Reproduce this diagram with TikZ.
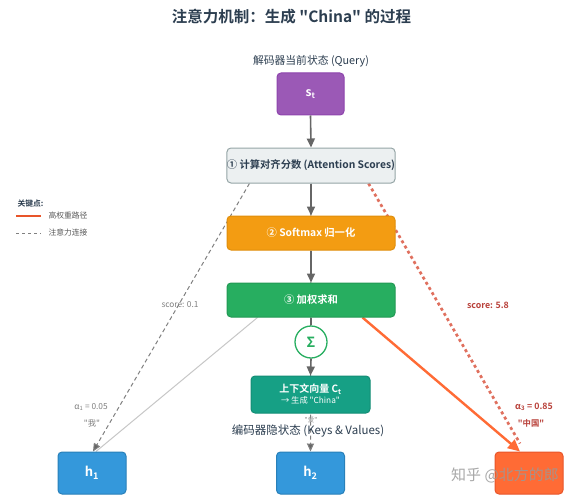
\documentclass[tikz,border=0pt]{standalone}
\usepackage{fontspec}
\setmainfont{Noto Sans CJK SC}[BoldFont={Noto Sans CJK SC Bold}]
\usetikzlibrary{arrows.meta,calc}
\definecolor{titlec}{HTML}{2C3E50}
\definecolor{purp}{HTML}{9B59B6}
\definecolor{purpd}{HTML}{8E44AD}
\definecolor{greyf}{HTML}{ECF0F1}
\definecolor{greyd}{HTML}{95A5A6}
\definecolor{orng}{HTML}{F39C12}
\definecolor{orngd}{HTML}{E08E0B}
\definecolor{grn}{HTML}{27AE60}
\definecolor{grnd}{HTML}{229954}
\definecolor{teal}{HTML}{16A085}
\definecolor{teald}{HTML}{138D75}
\definecolor{blu}{HTML}{3498DB}
\definecolor{blud}{HTML}{2980B9}
\definecolor{hot}{HTML}{FF6B35}
\definecolor{hotd}{HTML}{E8552A}
\definecolor{arrg}{HTML}{666666}
\definecolor{redd}{HTML}{E0705E}
\definecolor{redt}{HTML}{B9413A}
\newcommand{\dq}{\textquotedbl}
\pgfdeclarelayer{bg}
\pgfsetlayers{bg,main}
\tikzset{
  box/.style={rounded corners=4pt, line width=1pt, inner sep=0pt, text=white,
    font=\bfseries\fontsize{10.3}{12}\selectfont},
  hbox/.style={box, fill=blu, draw=blud, minimum width=68, minimum height=42,
    font=\bfseries\fontsize{13}{15}\selectfont},
  arr/.style={draw=arrg, line width=1.6pt, -{Triangle[length=9pt,width=8pt]}},
  plainln/.style={draw=arrg, line width=1.6pt},
  lab/.style={text=titlec, font=\fontsize{10.8}{12}\selectfont},
  small/.style={font=\fontsize{8.3}{9.5}\selectfont},
  greydash/.style={draw=black!50, line width=1pt, dash pattern=on 4pt off 3pt,
    -{Triangle[length=8pt,width=7pt,fill=arrg]}},
  reddot/.style={draw=redd, line width=2.7pt, dash pattern=on 3pt off 3pt},
}
\begin{document}
\begin{tikzpicture}[x=1pt,y=-1pt]
\useasboundingbox (0,0) rectangle (583,500);
\begin{pgfonlayer}{bg}
\fill[white] (0,0) rectangle (583,500);
\end{pgfonlayer}

% title and labels
\node[text=titlec, font=\bfseries\fontsize{15.5}{18}\selectfont] (title) at (291.5,17) {注意力机制：生成 \dq China\dq{} 的过程};
\node[lab] (qlab) at (311,61) {解码器当前状态 (Query)};

% nodes
\node[box, fill=purp, draw=purpd, minimum width=67, minimum height=42,
  font=\bfseries\fontsize{12}{14}\selectfont] (st) at (310.5,94) {s\textsubscript{t}};
\node[box, fill=greyf, draw=greyd, text=titlec, minimum width=168, minimum height=35] (step1) at (311,165.5) {① 计算对齐分数 (Attention Scores)};
\node[box, fill=orng, draw=orngd, minimum width=168, minimum height=34] (step2) at (311,233) {② Softmax 归一化};
\node[box, fill=grn, draw=grnd, minimum width=168, minimum height=34] (step3) at (311,300) {③ 加权求和};
\node[circle, draw=grn, fill=white, line width=1.3pt, minimum size=32, inner sep=0pt,
  text=grn, font=\bfseries\fontsize{14}{16}\selectfont] (sigma) at (311,342) {Σ};
\node[box, fill=teal, draw=teald, minimum width=119, minimum height=37, align=center] (ct) at (310.5,394.5)
  {\fontsize{10}{12}\selectfont 上下文向量 C\textsubscript{t}\\[-1pt]{\mdseries\fontsize{8.3}{10}\selectfont → 生成 \dq China\dq}};
\node[hbox] (h1) at (92,473) {h\textsubscript{1}};
\node[hbox] (h2) at (310.5,473) {h\textsubscript{2}};
\node[hbox, fill=hot, draw=hotd] (h3) at (529,473) {};

% background connectors
\begin{pgfonlayer}{bg}
  \draw[greydash] (step1.south) -- (h2.north);
  \draw[draw=black!22, line width=1pt] ([xshift=31pt]step3.south west) -- ([xshift=4pt]h1.north);
  \draw[greydash] ([xshift=23pt]step1.south west) -- ([xshift=1pt]h1.north);
  \draw[reddot] ([xshift=-27pt]step1.south east) -- ([xshift=-9pt,yshift=8pt]h3.north);
  \draw[draw=hot, line width=2.4pt, -{Triangle[length=12pt,width=11pt]}] ([xshift=-33pt]step3.south east) -- ([xshift=-9pt]h3.north);
\end{pgfonlayer}

% main arrows
\draw[arr] (st.south) -- (step1.north);
\draw[arr] (step1.south) -- (step2.north);
\draw[arr] (step2.south) -- (step3.north);
\draw[plainln] (step3.south) -- (sigma.north);
\draw[arr] (sigma.south) -- (ct.north);

% connector labels
\node[small, text=black!50] (s1) at (180,305) {score: 0.1};
\node[small, text=redt, font=\bfseries\fontsize{8.8}{10}\selectfont] (s3) at (488,305) {score: 5.8};
\node[small, text=black!50] (a1) at (91,407) {α\textsubscript{1} = 0.05};
\node[small, text=black!50] (w1) at (92,423) {\dq 我\dq};
\node[small, text=redt, font=\bfseries\fontsize{8.8}{10}\selectfont] (a3) at (534,407) {α\textsubscript{3} = 0.85};
\node[small, text=redt, font=\bfseries\fontsize{8.3}{10}\selectfont] (w3) at (531,423) {\dq 中国\dq};
\node[text=black!45, font=\fontsize{6.5}{8}\selectfont] (w2) at (311,420) {\dq 爱\dq};
\node[text=titlec, font=\fontsize{11.5}{13}\selectfont] (enclab) at (308,431) {编码器隐状态 (Keys \& Values)};

% legend
\node[anchor=west, text=titlec, font=\bfseries\fontsize{7.8}{9}\selectfont] (legt) at (14,204) {关键点:};
\coordinate (lA) at (16,216); \coordinate (lB) at (41,216);
\coordinate (lC) at (16,233); \coordinate (lD) at (41,233);
\draw[draw=hotd, line width=1.8pt] (lA) -- (lB);
\draw[draw=black!50, line width=0.9pt, dash pattern=on 3pt off 3pt] (lC) -- (lD);
\node[anchor=west, text=black!65, font=\fontsize{7.8}{9}\selectfont] (l1) at (45,216) {高权重路径};
\node[anchor=west, text=black!65, font=\fontsize{7.8}{9}\selectfont] (l2) at (45,233) {注意力连接};

% watermark
\node[text=black!40, opacity=0.85, font=\fontsize{15}{17}\selectfont] (wm) at (505,475) {知乎 @北方的郎};
\end{tikzpicture}
\end{document}
